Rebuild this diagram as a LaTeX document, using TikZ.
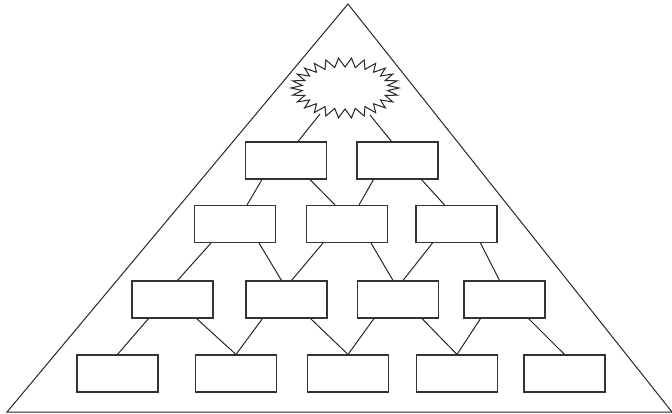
\documentclass[tikz,border=0pt]{standalone}
\begin{document}
\begin{tikzpicture}[x=1pt,y=-1pt,
  box/.style={draw=black!80,line width=1.1pt,fill=white,minimum width=81pt,minimum height=37pt,inner sep=0pt},
  conn/.style={draw=black!85,line width=1pt},
  edgeline/.style={draw=black!85,line width=1pt,line join=miter}]
\useasboundingbox (0,0) rectangle (672,414);
% triangle
\coordinate (apex) at (348,4);
\coordinate (bl) at (7,412);
\coordinate (br) at (672,412);
\draw[edgeline] (bl) -- (apex) -- (br) -- cycle;
% starburst
\coordinate (star) at (345,88);
\draw[black!85,line width=1pt,fill=white,line join=miter,shift={(star)}]
  plot[samples at={0,...,51},variable=\k] ({(mod(\k,2)==0 ? 54 : 43)*cos(\k*6.923077)},{(mod(\k,2)==0 ? 30 : 21)*sin(\k*6.923077)}) -- cycle;
\coordinate (starL) at (320,114);
\coordinate (starR) at (370,115);
% row 1
\node[box] (r1c1) at (286,160.5) {};
\node[box] (r1c2) at (397.5,160.5) {};
% row 2
\node[box] (r2c1) at (235,224) {};
\node[box] (r2c2) at (347,224) {};
\node[box] (r2c3) at (456.5,224) {};
% row 3
\node[box] (r3c1) at (172.5,299.5) {};
\node[box] (r3c2) at (286.5,299.5) {};
\node[box] (r3c3) at (398,299.5) {};
\node[box] (r3c4) at (504.5,299.5) {};
% row 4
\node[box] (r4c1) at (117.5,373.5) {};
\node[box] (r4c2) at (236,373.5) {};
\node[box] (r4c3) at (348,373.5) {};
\node[box] (r4c4) at (457,373.5) {};
\node[box] (r4c5) at (564.5,373.5) {};
% connectors
\draw[conn] (starL) -- ([xshift=12pt]r1c1.north);
\draw[conn] (starR) -- ([xshift=-6pt]r1c2.north);
\foreach \r/\n/\d in {1/2/12,2/3/5,3/4/0}{
  \pgfmathtruncatemacro{\rr}{\r+1}
  \foreach \i in {1,...,\n}{
    \pgfmathtruncatemacro{\j}{\i+1}
    \draw[conn] ([xshift=-24pt]r\r c\i.south) -- ([xshift=\d pt]r\rr c\i.north);
    \draw[conn] ([xshift=24pt]r\r c\i.south) -- ([xshift=-\d pt]r\rr c\j.north);
  }
}
\end{tikzpicture}
\end{document}
